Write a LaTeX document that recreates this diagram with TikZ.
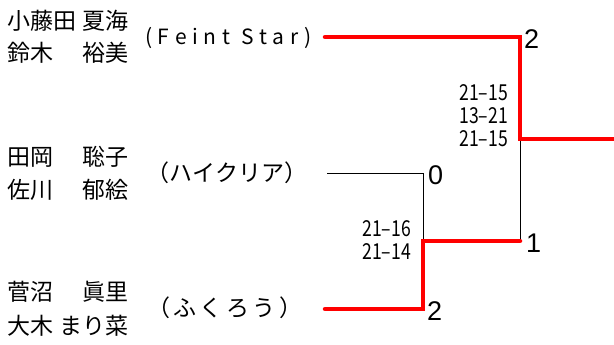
\documentclass[tikz,border=0pt]{standalone}
\usepackage{fontspec}
\setmainfont{Noto Sans CJK JP}
\newfontfamily\jpfont{Noto Sans CJK JP}
\newfontfamily\numfont{Liberation Sans}
\begin{document}
\begin{tikzpicture}[x=1pt,y=-1pt,
  namebox/.style={anchor=west,inner sep=0pt,font=\jpfont\fontsize{23}{23}\selectfont},
  teambox/.style={anchor=west,inner sep=0pt,font=\jpfont\fontsize{23}{23}\selectfont},
  scorebox/.style={anchor=east,inner sep=0pt,align=right,font=\jpfont\fontsize{22}{23}\selectfont},
  roundbox/.style={anchor=west,inner sep=0pt,font=\numfont\fontsize{27}{27}\selectfont},
  win/.style={draw=red,line width=4.5pt,line cap=round,line join=miter},
  lose/.style={draw=black,line width=0.8pt}]
\useasboundingbox (0,0) rectangle (614,345);
% names
\node[namebox] (n1a) at (7,21) {\makebox[121pt][s]{小藤田\hfill 夏海}};
\node[namebox] (n1b) at (7,53) {\makebox[121pt][s]{鈴木\hfill 裕美}};
\node[namebox] (n2a) at (7,157) {\makebox[121pt][s]{田岡\hfill 聡子}};
\node[namebox] (n2b) at (7,190) {\makebox[121pt][s]{佐川\hfill 郁絵}};
\node[namebox] (n3a) at (7,292) {\makebox[121pt][s]{菅沼\hfill 眞里}};
\node[namebox] (n3b) at (7,326) {\makebox[121pt][s]{大木\hfill まり菜}};
% teams
\node[teambox,font=\jpfont\fontsize{21}{21}\selectfont] (t1n) at (145,38) {\makebox[166pt][s]{(\hfill F\hfill e\hfill i\hfill n\hfill t\hfill\hfill S\hfill t\hfill a\hfill r\hfill )}};
\node[teambox] (t2n) at (146,173) {\makebox[159pt][s]{（\hfill ハ\hfill イ\hfill ク\hfill リ\hfill ア\hfill ）}};
\node[teambox] (t3n) at (147,308) {\makebox[155pt][s]{（\hfill ふ\hfill く\hfill ろ\hfill う\hfill ）}};
% coordinates
\coordinate (a1) at (325,37);
\coordinate (a2) at (520,37);
\coordinate (b1) at (327,173);
\coordinate (b2) at (423,173);
\coordinate (c1) at (325,309);
\coordinate (c2) at (423,309);
\coordinate (j2) at (423,241);
\coordinate (j1) at (520,241);
\coordinate (f1) at (520,139);
\coordinate (out) at (614,139);
% lines
\draw[lose] (b1) -- (b2) -- (j2);
\draw[lose] (j1) -- (f1);
\draw[win] (a1) -- (a2) -- (f1) -- ([xshift=3pt]out);
\draw[win] (c1) -- (c2) -- (j2) -- (j1);
% scores
\node[roundbox] (s1) at (524,39) {2};
\node[roundbox] (s2) at (428,175) {0};
\node[roundbox] (s3) at (526,243) {1};
\node[roundbox] (s4) at (427,311) {2};
\node[scorebox] (sc1) at (508,116) {\scalebox{0.8}[1]{21–15}\\\scalebox{0.8}[1]{13–21}\\\scalebox{0.8}[1]{21–15}};
\node[scorebox] (sc2) at (411,240) {\scalebox{0.8}[1]{21–16}\\\scalebox{0.8}[1]{21–14}};
\end{tikzpicture}
\end{document}
